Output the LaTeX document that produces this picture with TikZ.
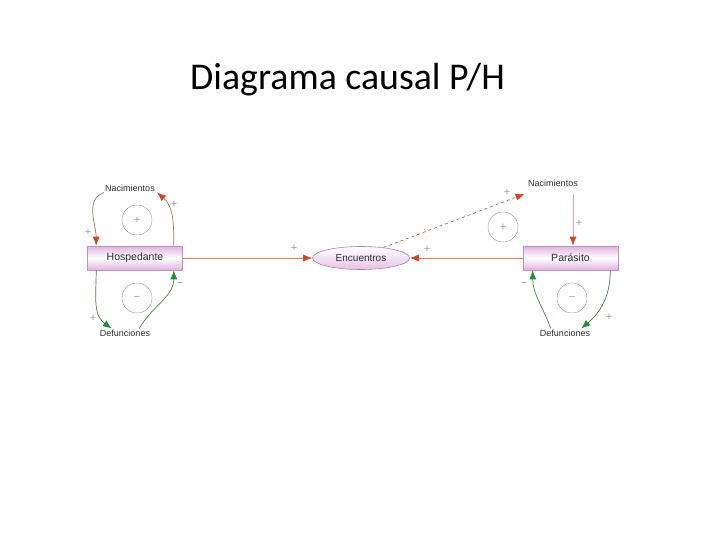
\documentclass[tikz,border=0pt]{standalone}
\usepackage{fontspec}
\setmainfont{Liberation Sans}
\newfontfamily\titlefont{Carlito}
\usetikzlibrary{arrows.meta,shapes.geometric}

\definecolor{boxedge}{RGB}{185,150,185}
\definecolor{boxpink}{RGB}{225,178,225}
\definecolor{redline}{RGB}{212,128,100}
\definecolor{redtip}{RGB}{205,72,42}
\definecolor{brownline}{RGB}{165,110,90}
\definecolor{pinkline}{RGB}{235,155,155}
\definecolor{greenline}{RGB}{70,125,75}
\definecolor{greentip}{RGB}{35,140,55}
\definecolor{signgrey}{RGB}{165,150,140}
\definecolor{labelgrey}{RGB}{45,45,55}

\begin{document}
\begin{tikzpicture}[x=1pt, y=-1pt,
  stock/.style={draw=boxedge, line width=0.6pt, minimum width=95pt, minimum height=24pt,
    inner sep=0pt, top color=boxpink, bottom color=boxpink, middle color=white,
    text=labelgrey, font=\fontsize{10.5}{12}\selectfont},
  aux/.style={ellipse, draw=boxedge!90!black, line width=0.6pt, minimum width=97pt,
    minimum height=23pt, inner sep=0pt, top color=white, bottom color=boxpink!80,
    text=labelgrey, font=\fontsize{10}{12}\selectfont},
  flow/.style={font=\fontsize{9}{10}\selectfont, text=labelgrey, inner sep=1pt},
  sign/.style={font=\fontsize{11}{11}\selectfont, text=signgrey, inner sep=0pt},
  loop/.style={circle, draw=signgrey, line width=0.4pt, minimum size=30pt, inner sep=0pt,
    font=\fontsize{11}{11}\selectfont, text=signgrey},
  redarrow/.style={line width=0.7pt, redline, arrows={-{Latex[length=9pt,width=7pt,fill=redtip,color=redtip]}}},
  brownarrow/.style={redarrow, brownline},
  greenarrow/.style={line width=0.7pt, greenline, arrows={-{Latex[length=9pt,width=7pt,fill=greentip,color=greentip]}}}
]
\useasboundingbox (0,0) rectangle (720,540);

\node[font=\titlefont\fontsize{37.8}{42}\selectfont, anchor=base west, inner sep=0pt] (title) at (190,90) {Diagrama causal P/H};

% stocks and auxiliary
\node[stock] (hosp) at (135,258) {Hospedante};
\node[stock] (par) at (570.5,258) {Parásito};
\node[aux] (enc) at (361,258) {Encuentros};

% flows
\node[flow] (nacH) at (130,188) {Nacimientos};
\node[flow] (defH) at (125,333) {Defunciones};
\node[flow] (nacP) at (553,183) {Nacimientos};
\node[flow] (defP) at (565,333) {Defunciones};

% loop markers
\node[loop] (loopHb) at (137,220) {+};
\node[loop] (loopHd) at (137,298) {−};
\node[loop] (loopPb) at (503,227) {+};
\node[loop] (loopPd) at (572,298) {−};

% host loops
\draw[brownarrow] (nacH.south west) to[out=200, in=90] ([xshift=9pt]hosp.north west);
\draw[brownarrow] ([xshift=-9pt]hosp.north east) to[out=90, in=-40] ([xshift=1pt]nacH.south east);
\draw[greenarrow] ([xshift=9pt]hosp.south west) to[out=-90, in=145] ([xshift=13pt]defH.north west);
\draw[greenarrow] ([xshift=-12pt]defH.north east) to[out=60, in=-90] ([xshift=-9pt]hosp.south east);

% encounters
\draw[redarrow] (hosp.east) -- (enc.west);
\draw[redarrow] (par.west) -- (enc.east);
\draw[brownarrow, dashed] (enc.25) -- ([xshift=-2.5pt,yshift=-6.5pt]nacP.south west);

% parasite loops
\coordinate (nacPsrc) at ([xshift=2.5pt,yshift=-6pt]par.north |- nacP.south);
\draw[redarrow, pinkline] (nacPsrc) -- ([xshift=2.5pt]par.north);
\draw[greenarrow] ([xshift=-8pt]par.south east) to[out=-90, in=40] ([xshift=-10pt]defP.north east);
\draw[greenarrow] ([xshift=12pt]defP.north west) to[out=110, in=-90] ([xshift=10pt]par.south west);

% polarity signs
\node[sign] (sH1) at (88,232) {+};
\node[sign] (sH2) at (174,204) {+};
\node[sign] (sH3) at (93,318) {+};
\node[sign] (sH4) at (180,284) {−};
\node[sign] (sE1) at (294,248) {+};
\node[sign] (sE2) at (427,249) {+};
\node[sign] (sP1) at (507,192) {+};
\node[sign] (sP2) at (579,223) {+};
\node[sign] (sP3) at (524,284) {−};
\node[sign] (sP4) at (609,317) {+};
\end{tikzpicture}
\end{document}
